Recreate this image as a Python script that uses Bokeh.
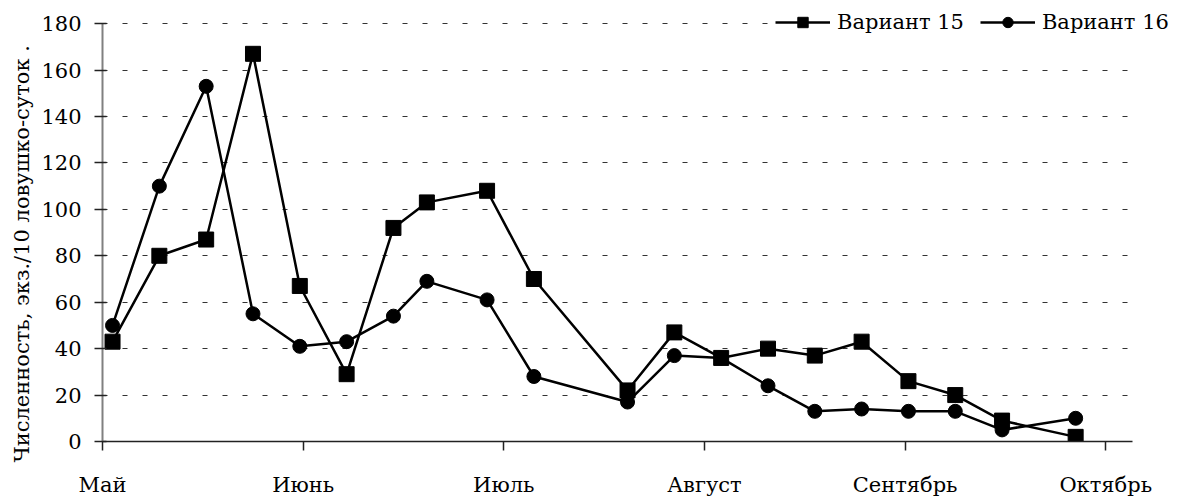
from bokeh.plotting import figure
from bokeh.models import FixedTicker, Range1d, Legend, LegendItem, ColumnDataSource, Title
from bokeh.embed import file_html
from bokeh.resources import INLINE

# Day offsets from 1 May (each month shown as 30 days)
days = [1.5, 8.5, 15.5, 22.5, 29.5, 36.5, 43.5, 48.5, 57.5, 64.5,
        78.5, 85.5, 92.5, 99.5, 106.5, 113.5, 120.5, 127.5, 134.5, 145.5]
variant15 = [43, 80, 87, 167, 67, 29, 92, 103, 108, 70,
             22, 47, 36, 40, 37, 43, 26, 20, 9, 2]
variant16 = [50, 110, 153, 55, 41, 43, 54, 69, 61, 28,
             17, 37, 36, 24, 13, 14, 13, 13, 5, 10]
month_ticks = [0, 30, 60, 90, 120, 150]
month_labels = ["Май", "Июнь", "Июль", "Август", "Сентябрь", "Октябрь"]
y_ticks = [0, 20, 40, 60, 80, 100, 120, 140, 160, 180]
series_names = ["Вариант 15", "Вариант 16"]
y_title = "Численность, экз./10 ловушко-суток ."

FONT = "DejaVu Serif"
W, H = 1178, 499
LEFT, BOTTOM = 102, 55
PLOT_TOP_PX = 23.3             # where the 180 line sits
X_END = 154.0                  # end of the drawn x axis (days)
Y_END = 180.0                  # end of the drawn y axis
PX_PER_DAY = 1030 / X_END
frame_w = W - LEFT
frame_h = H - BOTTOM

p = figure(width=W, height=H, output_backend="svg", toolbar_location=None,
           x_range=Range1d(0, frame_w / PX_PER_DAY),
           y_range=Range1d(0, Y_END * frame_h / (frame_h - PLOT_TOP_PX)),
           min_border_left=LEFT, min_border_right=0, min_border_top=0, min_border_bottom=BOTTOM)
p.outline_line_color = None
p.background_fill_color = "white"
p.border_fill_color = "white"

src15 = ColumnDataSource(dict(x=days, y=variant15))
src16 = ColumnDataSource(dict(x=days, y=variant16))

l15 = p.line("x", "y", source=src15, line_color="black", line_width=2.5)
m15 = p.scatter("x", "y", source=src15, marker="square", size=15, fill_color="black", line_color="black")
l16 = p.line("x", "y", source=src16, line_color="black", line_width=2.5)
m16 = p.scatter("x", "y", source=src16, marker="circle", size=14, fill_color="black", line_color="black")

# x axis
p.xaxis.bounds = (0, X_END)
p.xaxis.ticker = FixedTicker(ticks=month_ticks)
p.xaxis.major_label_overrides = {t: lab for t, lab in zip(month_ticks, month_labels)}
p.xaxis.minor_tick_line_color = None
p.xaxis.major_tick_in = 0
p.xaxis.major_tick_out = 9
p.xaxis.axis_line_color = "#222222"
p.xaxis.axis_line_width = 1.5
p.xaxis.major_tick_line_color = "#222222"
p.xaxis.major_tick_line_width = 1.5
p.xaxis.major_label_text_font = FONT
p.xaxis.major_label_text_font_size = "21px"
p.xaxis.major_label_text_color = "black"
p.xaxis.major_label_standoff = 22

# y axis
p.yaxis.bounds = (0, Y_END)
p.yaxis.ticker = FixedTicker(ticks=y_ticks)
p.yaxis.minor_tick_line_color = None
p.yaxis.major_tick_in = 4
p.yaxis.major_tick_out = 8
p.yaxis.axis_line_color = "#808080"
p.yaxis.axis_line_width = 2
p.yaxis.major_tick_line_color = "#222222"
p.yaxis.major_tick_line_width = 1.5
p.yaxis.major_label_text_font = FONT
p.yaxis.major_label_text_font_size = "21px"
p.yaxis.major_label_text_color = "black"
p.yaxis.major_label_standoff = 13

# y-axis title, starting a little below the x axis as in the original
ytitle = Title(text=y_title, align="left", offset=-21, vertical_align="bottom", standoff=10,
               text_font=FONT, text_font_size="21px", text_font_style="normal", text_color="black")
p.add_layout(ytitle, "left")

# grid
p.xgrid.grid_line_color = None
p.ygrid.ticker = FixedTicker(ticks=y_ticks[1:])
p.ygrid.cross_bounds = (0, X_END)
p.ygrid.grid_line_color = "#333333"
p.ygrid.grid_line_width = 1
p.ygrid.grid_line_dash = "5 15"

legend = Legend(items=[LegendItem(label=series_names[0], renderers=[l15, m15]),
                       LegendItem(label=series_names[1], renderers=[l16, m16])],
                orientation="horizontal", location=(673, 406),
                glyph_width=55, glyph_height=26, label_standoff=7, spacing=16,
                padding=0, margin=0, border_line_color=None,
                background_fill_color="white", background_fill_alpha=1.0,
                label_text_font=FONT, label_text_font_size="21px", label_text_color="black")
p.add_layout(legend, "center")

open("out.html", "w").write(file_html(p, INLINE))
